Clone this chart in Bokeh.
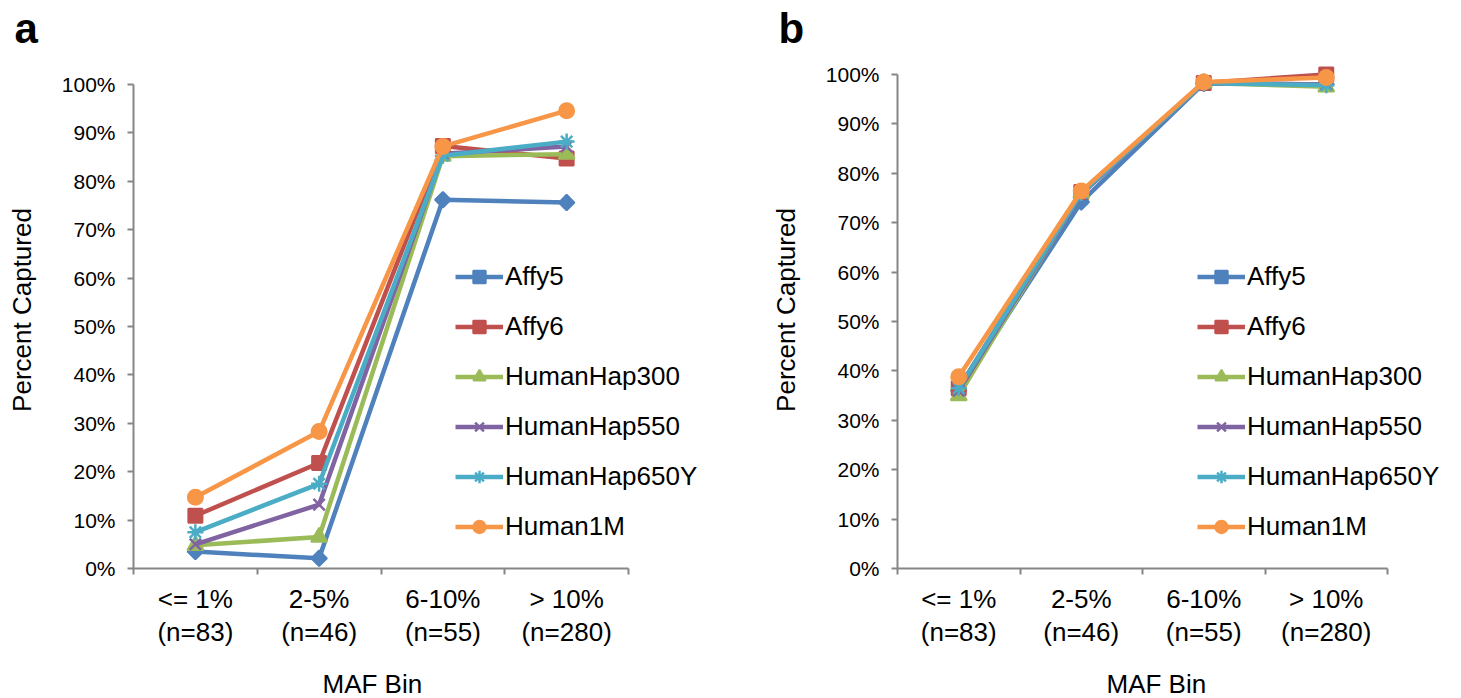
import numpy as np
from bokeh.plotting import figure
from bokeh.models import (FixedTicker, NumeralTickFormatter, Range1d, Legend,
                          LegendItem, Title)
from bokeh.layouts import row
from bokeh.embed import file_html
from bokeh.resources import INLINE

# ---------------- data ----------------
categories = ["<= 1%", "2-5%", "6-10%", "> 10%"]
n_counts = [83, 46, 55, 280]
series_names = ["Affy5", "Affy6", "HumanHap300", "HumanHap550",
                "HumanHap650Y", "Human1M"]

# panel a
a_affy5 = [0.035, 0.021, 0.762, 0.756]
a_affy6 = [0.109, 0.218, 0.873, 0.847]
a_hh300 = [0.048, 0.065, 0.852, 0.856]
a_hh550 = [0.050, 0.132, 0.857, 0.872]
a_hh650y = [0.075, 0.175, 0.853, 0.882]
a_h1m = [0.147, 0.283, 0.872, 0.946]

# panel b
b_affy5 = [0.360, 0.742, 0.982, 0.980]
b_affy6 = [0.365, 0.762, 0.983, 1.000]
b_hh300 = [0.350, 0.760, 0.983, 0.975]
b_hh550 = [0.360, 0.758, 0.983, 0.980]
b_hh650y = [0.365, 0.760, 0.983, 0.978]
b_h1m = [0.388, 0.764, 0.985, 0.994]

y_ticks = [0.0, 0.1, 0.2, 0.3, 0.4, 0.5, 0.6, 0.7, 0.8, 0.9, 1.0]

# ---------------- styles ----------------
FONT = "Liberation Sans"
AXIS_GRAY = "#868686"
styles = {
    "Affy5": dict(color="#4F81BD", marker="square", size=11, angle=np.pi / 4, lw=2),
    "Affy6": dict(color="#C0504D", marker="square", size=14, angle=0.0, lw=2),
    "HumanHap300": dict(color="#9BBB59", marker="triangle", size=16, angle=0.0, lw=2),
    "HumanHap550": dict(color="#8064A2", marker="x", size=16, angle=0.0, lw=2.5),
    "HumanHap650Y": dict(color="#4BACC6", marker="asterisk", size=16, angle=0.0, lw=2.5),
    "Human1M": dict(color="#F79646", marker="circle", size=15, angle=0.0, lw=2),
}

FRAME_TOP = 51       # top of plotting frame (px)
ZERO_Y = 568         # pixel row of 0%
BOTTOM = 130


def make_panel(series_values, letter, top100, min_left, axis_w, frame_w,
               legend_x, xtitle_left):
    ncat = len(categories)
    xs = np.arange(ncat) + 0.5
    tick_labels = [f"{c}\n(n={n})" for c, n in zip(categories, n_counts)]
    px_per_unit_y = ZERO_Y - top100
    frame_h = ZERO_Y - FRAME_TOP
    y_end = frame_h / px_per_unit_y
    x_end = ncat * frame_w / axis_w

    p = figure(frame_width=frame_w, frame_height=frame_h,
               min_border_left=min_left, min_border_right=0,
               min_border_top=FRAME_TOP, min_border_bottom=BOTTOM,
               x_range=Range1d(0, x_end), y_range=Range1d(0, y_end),
               output_backend="svg", toolbar_location=None,
               background_fill_color="white", border_fill_color="white")
    p.outline_line_color = None
    p.grid.visible = False

    # x axis
    xa = p.xaxis[0]
    xa.bounds = (0, ncat)
    xa.ticker = FixedTicker(ticks=list(xs), minor_ticks=list(range(ncat + 1)))
    xa.major_label_overrides = {float(x): t for x, t in zip(xs, tick_labels)}
    xa.major_tick_line_color = None
    xa.major_tick_out = 6
    xa.major_tick_in = 0
    xa.minor_tick_line_color = AXIS_GRAY
    xa.minor_tick_line_width = 2
    xa.minor_tick_out = 6
    xa.minor_tick_in = 0
    xa.axis_line_color = AXIS_GRAY
    xa.axis_line_width = 2
    xa.major_label_standoff = 9
    xa.major_label_text_font = FONT
    xa.major_label_text_font_size = "26px"
    xa.major_label_text_color = "black"
    xa.major_label_text_line_height = 1.1

    # y axis
    ya = p.yaxis[0]
    ya.bounds = (0, 1)
    ya.ticker = FixedTicker(ticks=y_ticks, minor_ticks=[])
    ya.formatter = NumeralTickFormatter(format="0%")
    ya.axis_line_color = AXIS_GRAY
    ya.axis_line_width = 2
    ya.major_tick_line_color = AXIS_GRAY
    ya.major_tick_line_width = 2
    ya.major_tick_out = 6
    ya.major_tick_in = 0
    ya.minor_tick_line_color = None
    ya.major_label_standoff = 12
    ya.major_label_text_font = FONT
    ya.major_label_text_font_size = "21px"
    ya.major_label_text_color = "black"
    ya.axis_label = "Percent Captured"
    ya.axis_label_standoff = 22
    ya.axis_label_text_font = FONT
    ya.axis_label_text_font_size = "26px"
    ya.axis_label_text_font_style = "normal"
    ya.axis_label_text_color = "black"

    items = []
    for name, vals in zip(series_names, series_values):
        st = styles[name]
        ln = p.line(xs, vals, line_color=st["color"], line_width=4.5,
                    line_join="round")
        mk = p.scatter(xs, vals, marker=st["marker"], size=st["size"],
                       angle=st["angle"], fill_color=st["color"],
                       line_color=st["color"], line_width=st["lw"])
        items.append(LegendItem(label=name, renderers=[ln, mk], index=0))

    legend = Legend(items=items, location=(legend_x, 26), padding=0,
                    margin=0, spacing=19, glyph_width=48, glyph_height=31,
                    label_height=31, label_standoff=2,
                    border_line_color=None, background_fill_alpha=0,
                    label_text_font=FONT, label_text_font_size="26px",
                    label_text_color="black")
    p.add_layout(legend, "center")

    # panel letter
    p.add_layout(Title(text=letter, align="left", offset=-119, standoff=0,
                       text_font=FONT, text_font_style="bold",
                       text_font_size="42px", text_color="black"), "above")
    # x title
    p.add_layout(Title(text="MAF Bin", align="left", offset=xtitle_left,
                       standoff=34, text_font=FONT, text_font_style="normal",
                       text_font_size="26px", text_color="black"), "below")
    return p


pa = make_panel([a_affy5, a_affy6, a_hh300, a_hh550, a_hh650y, a_h1m], "a",
                top100=84, min_left=133, axis_w=495, frame_w=597,
                legend_x=322, xtitle_left=322 - 133)
pb = make_panel([b_affy5, b_affy6, b_hh300, b_hh550, b_hh650y, b_h1m], "b",
                top100=74, min_left=167, axis_w=490, frame_w=564,
                legend_x=300, xtitle_left=1106 - 897)

layout = row(pa, pb)
open("out.html", "w").write(file_html(layout, INLINE))
